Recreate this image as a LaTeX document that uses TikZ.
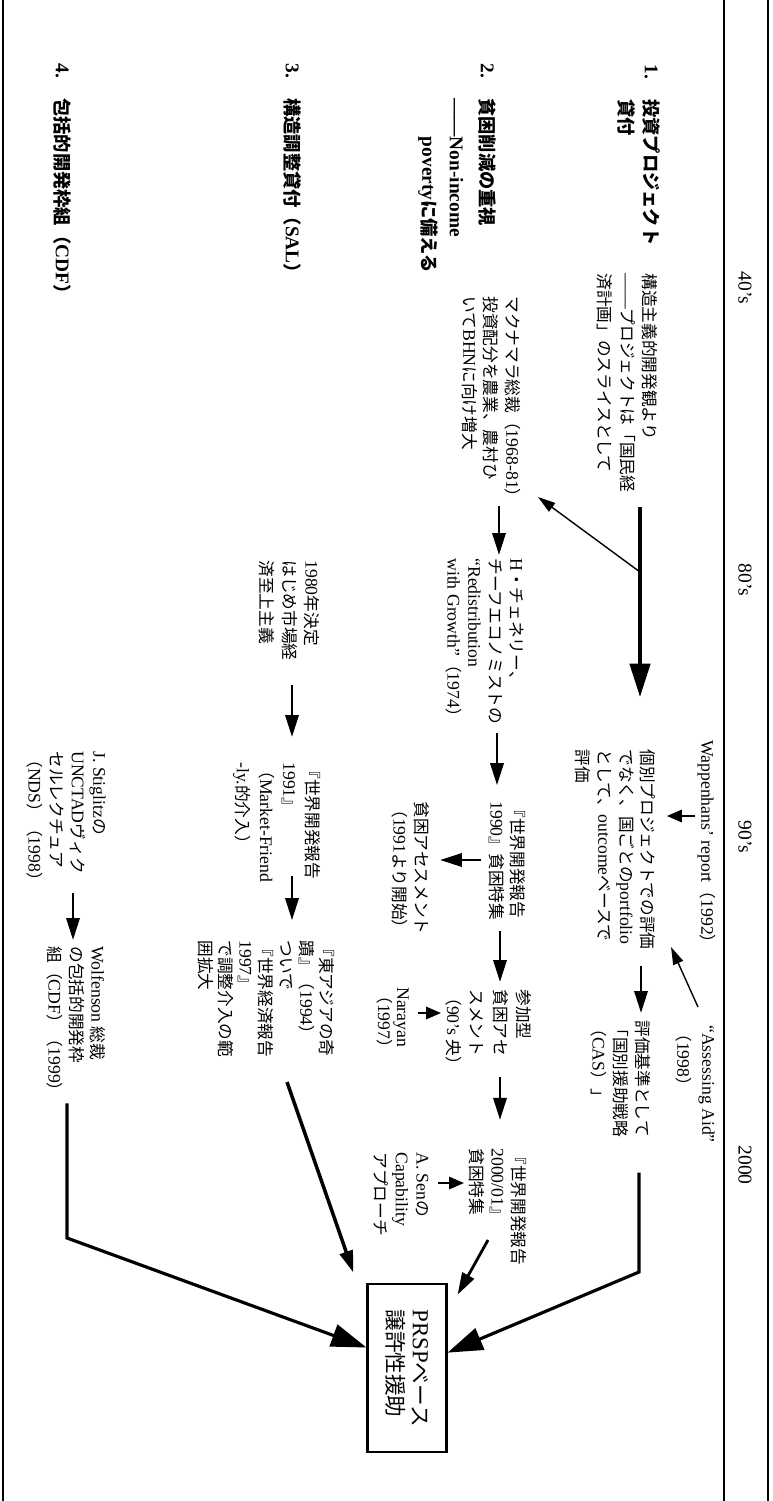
\documentclass[tikz,border=0pt]{standalone}
\usepackage{fontspec}
\setmainfont{Liberation Serif}[Scale=1.06]
\newfontfamily\jpfont{Noto Sans CJK JP}
\usetikzlibrary{arrows.meta,calc}

% Japanese characters switch to the CJK font, Latin ones back
\chardef\jpclass=100
\newcount\jpcount
\newcommand\jprange[3]{\jpcount=#1\relax
  \loop\ifnum\jpcount<#2\relax\XeTeXcharclass\jpcount=#3\relax\advance\jpcount by 1 \repeat}
\jprange{"0020}{"0100}{0}
\jprange{"2000}{"2070}{0}
\jprange{"3000}{"3100}{\jpclass}
\jprange{"4E00}{"A000}{\jpclass}
\jprange{"FF00}{"FF60}{\jpclass}
\XeTeXinterchartoks 0 \jpclass = {\jpfont}
\XeTeXinterchartoks 4095 \jpclass = {\jpfont}
\XeTeXinterchartoks \jpclass 0 = {\rmfamily}
\XeTeXinterchartoks 4095 0 = {\rmfamily}
\AtBeginDocument{\XeTeXinterchartokenstate=1}

\tikzset{
  every node/.style={inner sep=0pt, rotate=-90},
  txt/.style={anchor=north west, align=left, font=\fontsize{9.5}{#1}\selectfont},
  txt/.default=12.5,
  row/.style={anchor=north west, align=left, font=\fontsize{10.4}{#1}\selectfont\bfseries},
  row/.default=14.2,
  era/.style={font=\fontsize{10.5}{12}\selectfont},
  frame/.style={line width=1.1pt},
  thinarr/.style={line width=0.8pt, -{Triangle[length=10pt,width=6pt]}},
  smallarr/.style={line width=1.2pt, -{Triangle[length=8.5pt,width=7pt]}},
  midarr/.style={line width=1.6pt, -{Triangle[length=12.5pt,width=7.5pt]}},
  bigarr/.style={line width=2.2pt, -{Triangle[length=19pt,width=11.5pt]}},
  boxarr/.style={line width=1.8pt, -{Triangle[length=20pt,width=13pt]}},
  prspbox/.style={draw, line width=1.2pt, minimum width=96pt, minimum height=45pt,
    align=left, font=\fontsize{12.3}{14.7}\selectfont}
}

\begin{document}
\begin{tikzpicture}[x=0.02cm, y=-0.02cm]
  \useasboundingbox (0,0) rectangle (773,1501);
  \foreach \xx in {3,724,768}
    \draw[frame] (\xx,0) -- (\xx,1501);
  \foreach \yy/\era in {288/40’s, 580/80’s, 837/90’s, 1165/2000}
    \node[era] (era\yy) at (745,\yy) {\era};

  \node[row] (proj) at (661,64) {\makebox[1.8em][l]{1.}投資プロジェクト\\\hspace*{1.8em}貸付};
  \node[row=15.7] (pov) at (497,63) {\makebox[1.8em][l]{2.}貧困削減の重視\\[2pt]\hspace*{1.8em}——Non-income\\\hspace*{1.8em}\phantom{——}povertyに備える};
  \node[row] (sal) at (302,63) {\makebox[1.8em][l]{3.}構造調整貸付（SAL）};
  \node[row] (cdf) at (72,63) {\makebox[1.8em][l]{4.}包括的開発枠組（CDF）};

  \node[txt=12.8] (kozo) at (658,273) {構造主義的開発観より\\——プロジェクトは「国民経\\済計画」のスライスとして};
  \node[txt=12.2] (macna) at (521,296) {マクナマラ総裁（1968-81）\\投資配分を農業、農村ひ\\いてBHNに向け増大};
  \node[txt=11.9] (chenery) at (524,558) {H・チェネリー、\\チーフエコノミストの\\“Redistribution\\with Growth”（1974）};
  \node[txt=12.8] (y1980) at (320,560) {1980年決定\\はじめ市場経\\済至上主義};
  \node[txt] (wapp) at (716,740) {Wappenhans’ report（1992）};
  \node[txt=12.3] (kobetsu) at (656,749) {個別プロジェクトでの評価\\でなく、国ごとのportfolio\\として、outcomeベースで\\評価};
  \node[txt=14.2] (assess) at (715,1025) {“Assessing Aid”\\（1998）};
  \node[txt=12.5] (hyoka) at (651,1020) {評価基準として\\「国別援助戦略\\（CAS）」};
  \node[txt=11.9] (wdr90) at (526,801) {『世界開発報告\\1990』貧困特集};
  \node[txt=12.5] (hinkon) at (430,801) {貧困アセスメント\\（1991より開始）};
  \node[txt=13.4] (sanka) at (532,989) {参加型\\貧困アセ\\スメント\\（90’s 央）};
  \node[txt=10.8] (narayan) at (409,987) {Narayan\\（1997）};
  \node[txt=11.9] (wdr00) at (527,1148) {『世界開発報告\\2000/01』\\貧困特集};
  \node[txt=11.9] (sen) at (429,1152) {A. Senの\\Capability\\アプローチ};
  \node[txt=13.2] (wdr91) at (321,762) {『世界開発報告\\1991』\\（Market-Friend\\-ly.的介入）};
  \node[txt=11.5] (higashi) at (335,940) {『東アジアの奇\\蹟』（1994）\\ついで\\『世界経済報告\\1997』\\で調整介入の範\\囲拡大};
  \node[txt=12.3] (stig) at (106,751) {J. Stiglitzの\\UNCTADヴィク\\セルレクチュア\\（NDS）（1998）};
  \node[txt=12.2] (wolf) at (106,946) {Wolfenson 総裁\\の包括的開発枠\\組（CDF）（1999）};
  \node[prspbox] (prsp) at (407,1368) {PRSPベース\\譲許性援助};

  \coordinate (fork) at (640,572);
  \coordinate (kob-in) at (640,697);
  \coordinate (macna-in) at (538,497);
  \coordinate (assess-out) at (698,1007);
  \coordinate (kob-tip) at (671,947);
  \coordinate (hyoka-bend) at (639,1272);
  \coordinate (wdr00-out) at (488,1240);
  \coordinate (higashi-out) at (287,1082);
  \coordinate (wolf-bend) at (67,1238);

  \draw[bigarr, shorten <=8pt] (kozo.east -| fork) -- (kob-in);
  \draw[thinarr] (fork) -- (macna-in);
  \draw[midarr, shorten >=1.7pt] (macna.east -| 499,0) -- (chenery.west -| 499,0);
  \draw[midarr, shorten <=4.5pt, shorten >=9pt] (chenery.east -| 497,0) -- (wdr90.west -| 497,0);
  \draw[midarr, shorten <=13.9pt, shorten >=14.2pt] (y1980.east -| 292,0) -- (wdr91.west -| 292,0);
  \draw[smallarr, shorten <=1pt, shorten >=6.2pt] (wapp.south |- 0,816) -- (kobetsu.north |- 0,816);
  \draw[thinarr] (assess-out) -- (kob-tip);
  \draw[midarr, shorten <=9pt, shorten >=4pt] (kobetsu.east -| 641,0) -- (hyoka.west -| 641,0);
  \draw[boxarr, shorten <=20pt] (hyoka.east -| hyoka-bend) -- (hyoka-bend) -- ($(prsp.north west)!0.41!(prsp.north east)$);
  \draw[midarr, shorten <=4.5pt, shorten >=5.7pt] (wdr90.south |- 0,860) -- (hinkon.north |- 0,860);
  \draw[midarr, shorten <=5.7pt, shorten >=4pt] (wdr90.east -| 500,0) -- (sanka.west -| 500,0);
  \draw[smallarr, shorten <=5pt, shorten >=2.3pt] (narayan.north |- 0,1013) -- (sanka.south |- 0,1013);
  \draw[midarr, shorten <=2pt, shorten >=16pt] (sanka.east -| 500,0) -- (wdr00.west -| 500,0);
  \draw[smallarr, shorten <=5pt, shorten >=2.8pt] (sen.north |- 0,1183) -- (wdr00.south |- 0,1183);
  \draw[midarr] (wdr00-out) -- ($(prsp.north west)+(10,12)$);
  \draw[midarr, shorten <=-4pt, shorten >=11.3pt] (wdr91.east -| 292,0) -- (higashi.west -| 292,0);
  \draw[midarr, line width=2pt] (higashi-out) -- ($(prsp.south west)+(-13,-10)$);
  \draw[midarr, shorten <=2.3pt, shorten >=3.4pt] (stig.east -| 73,0) -- (wolf.west -| 73,0);
  \draw[boxarr, shorten <=2pt] (wolf.east -| wolf-bend) -- (wolf-bend) -- ($(prsp.south west)!0.38!(prsp.south east)$);
\end{tikzpicture}
\end{document}
